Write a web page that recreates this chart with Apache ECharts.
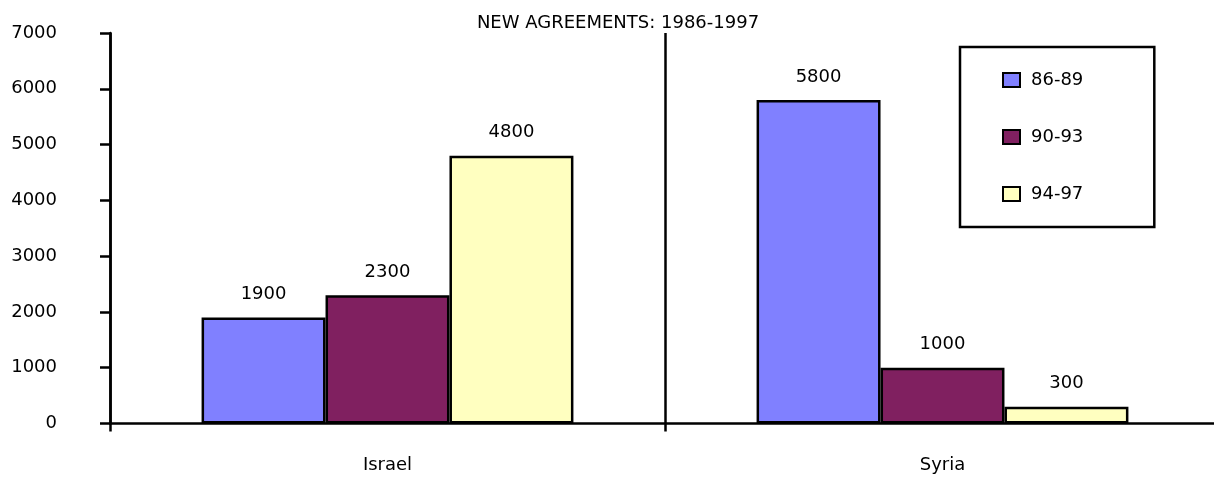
<!DOCTYPE html>
<html>
<head>
<meta charset="utf-8">
<script src="https://cdn.jsdelivr.net/npm/echarts@6/dist/echarts.min.js"></script>
<style>
html, body { margin: 0; padding: 0; background: #fff; }
#chart { width: 1214px; height: 478px; }
</style>
</head>
<body>
<div id="chart"></div>
<script>
var countries = ["Israel", "Syria"];
var periods = ["86-89", "90-93", "94-97"];
var colors = ["#8080FF", "#802060", "#FFFFC0"];
var v8689 = [1900, 5800];
var v9093 = [2300, 1000];
var v9497 = [4800, 300];

var FONT = "DejaVu Sans";

function make_series(name, data, color){
    return {
        name: name,
        type: "bar",
        data: data,
        barGap: "0%",
        barCategoryGap: "33%",
        itemStyle: {color: color, borderColor: "#000", borderWidth: 2.5},
        label: {show: true, position: "top", distance: 14, color: "#000",
                fontFamily: FONT, fontSize: 18},
        emphasis: {disabled: true}
    };
}

var chart = echarts.init(document.getElementById("chart"), null, {renderer: "canvas"});
chart.setOption({
    animation: false,
    title: {
        text: "NEW AGREEMENTS: 1986-1997",
        left: 613, top: 9, textAlign: "center",
        textStyle: {fontFamily: FONT, fontSize: 18, fontWeight: "normal", color: "#000"}
    },
    legend: {
        orient: "vertical",
        left: 960, top: 47,
        padding: [24, 71, 24, 42],
        itemGap: 39,
        itemWidth: 17, itemHeight: 14,
        icon: "rect",
        borderColor: "#000", borderWidth: 2.5,
        textStyle: {fontFamily: FONT, fontSize: 18, color: "#000", padding: [0, 0, 0, 6]},
        data: periods
    },
    grid: {left: 110, width: 1110, top: 33, bottom: 54.5, containLabel: false, outerBoundsMode: "none"},
    xAxis: {
        type: "category",
        data: countries,
        axisLine: {lineStyle: {color: "#000", width: 2.5}},
        axisTick: {show: true, length: 8, inside: false, lineStyle: {color: "#000", width: 2.5}},
        axisLabel: {margin: 33, color: "#000", fontFamily: FONT, fontSize: 18},
        splitLine: {show: true, lineStyle: {color: "#000", width: 2.5}}
    },
    yAxis: {
        type: "value",
        min: 0, max: 7000, interval: 1000,
        axisLine: {show: true, lineStyle: {color: "#000", width: 2.5}},
        axisTick: {show: true, length: 10, lineStyle: {color: "#000", width: 2.5}},
        axisLabel: {margin: 53, color: "#000", fontFamily: FONT, fontSize: 18,
                    formatter: function(v){ return String(v); }},
        splitLine: {show: false}
    },
    series: [
        make_series(periods[0], v8689, colors[0]),
        make_series(periods[1], v9093, colors[1]),
        make_series(periods[2], v9497, colors[2])
    ]
});
</script>
</body>
</html>
